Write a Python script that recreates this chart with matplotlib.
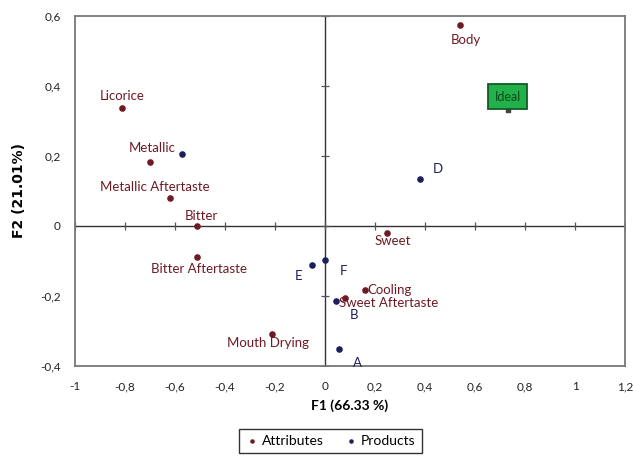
import numpy as np
import matplotlib.pyplot as plt

plt.rcParams['font.family'] = ['Lato', 'DejaVu Sans']

# attributes (F1, F2)
attr_names = ['Body', 'Licorice', 'Metallic', 'Metallic Aftertaste', 'Bitter',
              'Bitter Aftertaste', 'Mouth Drying', 'Sweet', 'Cooling', 'Sweet Aftertaste']
attr_f1 = [0.54, -0.81, -0.70, -0.62, -0.51, -0.51, -0.21, 0.25, 0.16, 0.08]
attr_f2 = [0.574, 0.337, 0.183, 0.080, 0.0, -0.09, -0.31, -0.02, -0.183, -0.205]

# products
prod_names = ['', 'D', 'E', 'F', 'B', 'A']
prod_f1 = [-0.57, 0.38, -0.05, 0.0, 0.045, 0.057]
prod_f2 = [0.205, 0.134, -0.111, -0.097, -0.214, -0.351]

ideal_f1, ideal_f2 = 0.73, 0.33

xticks = [-1, -0.8, -0.6, -0.4, -0.2, 0, 0.2, 0.4, 0.6, 0.8, 1, 1.2]
yticks = [-0.4, -0.2, 0, 0.2, 0.4, 0.6]

# label offsets in points (dx, dy, ha)
attr_off = [(4, -11, 'center'), (0, 9, 'center'), (2, 10, 'center'), (-11, 8, 'center'),
            (3, 7, 'center'), (1, -8, 'center'), (-3, -6, 'center'), (4, -6, 'center'),
            (2, 0, 'left'), (-4, -4, 'left')]
prod_off = [(0, 0), (13, 7), (-10, -8), (13, -8), (13, -10), (13, -10)]

red = '#6e1a24'
navy = '#1b1f5e'

fig = plt.figure(figsize=(6.34, 4.59), dpi=100)
ax = fig.add_axes([0.118, 0.203, 0.868, 0.762])

ax.axhline(0, color='#333333', lw=1.0, zorder=1)
ax.axvline(0, color='#333333', lw=1.0, zorder=1)
# small cross ticks on the zero lines
ax.plot(xticks, np.zeros(len(xticks)), ls='none', marker='|', ms=6, color='#555555', mew=0.9, zorder=1)
ax.plot(np.zeros(len(yticks)), yticks, ls='none', marker='_', ms=6, color='#555555', mew=0.9, zorder=1)

ax.scatter(attr_f1, attr_f2, s=14, color=red, zorder=3, label='Attributes')
ax.scatter(prod_f1, prod_f2, s=14, color=navy, zorder=3, label='Products')

for n, x, y, (dx, dy, ha) in zip(attr_names, attr_f1, attr_f2, attr_off):
    ax.annotate(n, (x, y), xytext=(dx, dy), textcoords='offset points',
                ha=ha, va='center', fontsize=9.5, color=red)
for n, x, y, (dx, dy) in zip(prod_names, prod_f1, prod_f2, prod_off):
    ax.annotate(n, (x, y), xytext=(dx, dy), textcoords='offset points',
                ha='center', va='center', fontsize=9.5, color=navy)

ax.scatter([ideal_f1], [ideal_f2], s=10, color='#444444', marker='s', zorder=3)
ax.annotate('Ideal', (ideal_f1, ideal_f2), xytext=(0, 10), textcoords='offset points',
            ha='center', va='center', fontsize=9, color='#0a4a1a',
            bbox=dict(boxstyle='square,pad=0.5', fc='#22b04a', ec='#145a25', lw=1.3))

ax.set_xlim(-1, 1.2)
ax.set_ylim(-0.4, 0.6)
ax.set_xticks(xticks)
ax.set_yticks(yticks)
ax.set_xticklabels([('%g' % t).replace('.', ',') for t in xticks], fontsize=8.5, color='#222222')
ax.set_yticklabels([('%g' % t).replace('.', ',') for t in yticks], fontsize=8.5, color='#222222')
ax.tick_params(axis='x', length=0, pad=11)
ax.tick_params(axis='y', length=0, pad=10)
for s in ax.spines.values():
    s.set_color('#777777')
    s.set_linewidth(1.3)

ax.set_xlabel('F1 (66.33 %)', fontsize=10, fontweight='bold', labelpad=5)
ax.set_ylabel('F2 (21.01%)', fontsize=10, fontweight='bold', labelpad=10,
              family='DejaVu Sans')

leg = ax.legend(loc='upper center', bbox_to_anchor=(0.464, -0.16), ncol=2, fontsize=10,
                frameon=True, fancybox=False, edgecolor='black', markerscale=0.6,
                handletextpad=0.2, columnspacing=1.5, borderpad=0.45, handlelength=1)
leg.get_frame().set_linewidth(1.0)

fig.savefig('out.png', dpi=100)
